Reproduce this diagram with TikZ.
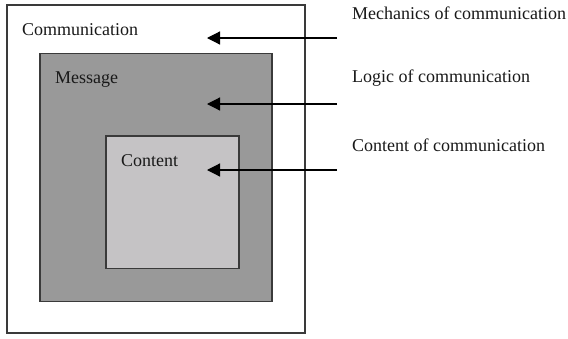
\documentclass[tikz,border=0pt]{standalone}
\usepackage{fontspec}
\setmainfont{Liberation Serif}
\usetikzlibrary{arrows.meta}
\definecolor{edge}{HTML}{3A3A3A}
\definecolor{midgray}{HTML}{999999}
\definecolor{lightgray}{HTML}{C5C3C5}
\tikzset{
  layer/.style={draw=edge, line width=1.4pt, inner sep=0pt, outer sep=0pt, anchor=north west},
  lbl/.style={inner sep=0pt, anchor=west, font=\fontsize{18}{21}\selectfont, text=black!90},
  pointer/.style={draw=black, line width=1.2pt, -{Triangle[length=13pt,width=13pt]}}
}
\begin{document}
\begin{tikzpicture}[x=1pt,y=-1pt]
  \useasboundingbox (0,0) rectangle (568,338);
  % nested layers
  \node[layer, fill=white, minimum width=298pt, minimum height=328pt] (outer) at (7,5) {};
  \node[layer, fill=midgray, minimum width=232pt, minimum height=248pt] (msg) at (40,53.5) {};
  \node[layer, fill=lightgray, minimum width=133pt, minimum height=132.5pt] (cnt) at (106,136) {};
  % layer titles
  \node[lbl] (tComm) at (22,30) {Communication};
  \node[lbl] (tMsg) at (55,80) {Message};
  \node[lbl] (tCnt) at (121,161) {Content};
  % side descriptions
  \node[lbl] (dMech) at (352,13) {Mechanics of communication};
  \node[lbl] (dLogic) at (352,78) {Logic of communication};
  \node[lbl] (dCont) at (352,145) {Content of communication};
  % pointer ends
  \coordinate (s1) at (337,38);
  \coordinate (e1) at (207,38);
  \coordinate (s2) at (337,104);
  \coordinate (e2) at (207,104);
  \coordinate (s3) at (337,170);
  \coordinate (e3) at (207,170);
  \draw[pointer] (s1) -- (e1);
  \draw[pointer] (s2) -- (e2);
  \draw[pointer] (s3) -- (e3);
\end{tikzpicture}
\end{document}
